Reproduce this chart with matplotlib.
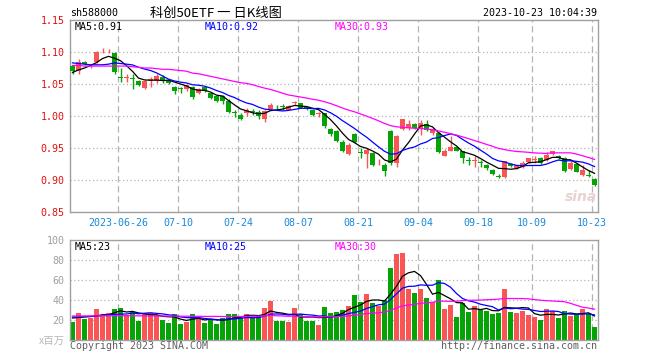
import numpy as np
import pandas as pd
import matplotlib
matplotlib.use("Agg")
import matplotlib.pyplot as plt

# 交易日: 2023-06-12 ~ 2023-10-23 (去掉端午、国庆休市)
holidays = ["2023-06-22", "2023-06-23", "2023-09-29", "2023-10-02",
            "2023-10-03", "2023-10-04", "2023-10-05", "2023-10-06"]
tick_dates = ["2023-06-26", "2023-07-10", "2023-07-24", "2023-08-07", "2023-08-21",
              "2023-09-04", "2023-09-18", "2023-10-09", "2023-10-23"]

open_ = [1.078, 1.070, 1.085, 1.079, 1.084, 1.101, 1.101, 1.098, 1.061, 1.060,
         1.060, 1.054, 1.044, 1.056, 1.055, 1.061, 1.057, 1.046, 1.043, 1.042,
         1.045, 1.036, 1.046, 1.036, 1.031, 1.031, 1.024, 1.006, 1.002, 1.005,
         1.008, 1.006, 0.996, 1.011, 1.016, 1.015, 1.010, 1.020, 1.020, 1.014,
         1.010, 1.003, 1.004, 0.979, 0.976, 0.960, 0.941, 0.972, 0.943, 0.940,
         0.942, 0.929, 0.924, 0.977, 0.927, 0.980, 0.981, 0.988, 0.981, 0.988,
         0.973, 0.973, 0.938, 0.946, 0.951, 0.945, 0.931, 0.930, 0.928, 0.924,
         0.915, 0.906, 0.904, 0.925, 0.919, 0.921, 0.928, 0.931, 0.934, 0.931,
         0.941, 0.938, 0.934, 0.917, 0.925, 0.908, 0.907, 0.902]
high = [1.080, 1.089, 1.086, 1.082, 1.102, 1.106, 1.105, 1.100, 1.075, 1.065,
        1.066, 1.056, 1.056, 1.061, 1.065, 1.064, 1.058, 1.047, 1.046, 1.049,
        1.047, 1.043, 1.047, 1.038, 1.033, 1.033, 1.026, 1.009, 1.004, 1.012,
        1.011, 1.010, 1.009, 1.020, 1.017, 1.019, 1.017, 1.024, 1.021, 1.016,
        1.011, 1.006, 1.005, 0.981, 0.978, 0.963, 0.958, 0.974, 0.950, 0.950,
        0.943, 0.933, 0.926, 0.978, 0.970, 0.996, 0.994, 0.989, 0.993, 0.994,
        0.981, 0.975, 0.948, 0.969, 0.952, 0.946, 0.936, 0.938, 0.932, 0.925,
        0.917, 0.910, 0.930, 0.926, 0.924, 0.929, 0.935, 0.937, 0.936, 0.944,
        0.946, 0.939, 0.936, 0.929, 0.926, 0.924, 0.915, 0.903]
low = [1.066, 1.065, 1.080, 1.075, 1.083, 1.098, 1.098, 1.065, 1.053, 1.053,
       1.042, 1.047, 1.042, 1.045, 1.052, 1.052, 1.050, 1.034, 1.036, 1.039,
       1.027, 1.034, 1.037, 1.026, 1.022, 1.019, 1.005, 0.999, 0.993, 1.000,
       1.002, 0.995, 0.991, 1.009, 1.010, 1.009, 1.009, 1.017, 1.012, 1.009,
       1.000, 0.999, 0.981, 0.969, 0.960, 0.943, 0.939, 0.958, 0.934, 0.919,
       0.922, 0.924, 0.907, 0.924, 0.921, 0.978, 0.978, 0.979, 0.970, 0.977,
       0.971, 0.942, 0.937, 0.945, 0.945, 0.926, 0.924, 0.920, 0.921, 0.916,
       0.908, 0.903, 0.903, 0.921, 0.917, 0.919, 0.926, 0.926, 0.925, 0.929,
       0.939, 0.933, 0.912, 0.915, 0.912, 0.907, 0.904, 0.890]
close = [1.070, 1.085, 1.082, 1.080, 1.100, 1.102, 1.102, 1.068, 1.060, 1.061,
         1.058, 1.049, 1.054, 1.057, 1.063, 1.054, 1.052, 1.039, 1.042, 1.048,
         1.030, 1.042, 1.039, 1.028, 1.024, 1.023, 1.007, 1.005, 0.996, 1.010,
         1.007, 1.000, 1.008, 1.017, 1.015, 1.014, 1.015, 1.021, 1.013, 1.011,
         1.001, 1.004, 0.984, 0.972, 0.961, 0.945, 0.955, 0.959, 0.942, 0.947,
         0.924, 0.930, 0.914, 0.926, 0.969, 0.995, 0.988, 0.981, 0.989, 0.978,
         0.979, 0.943, 0.946, 0.952, 0.946, 0.934, 0.930, 0.931, 0.927, 0.918,
         0.910, 0.905, 0.929, 0.922, 0.923, 0.927, 0.934, 0.932, 0.927, 0.939,
         0.945, 0.934, 0.914, 0.926, 0.913, 0.915, 0.906, 0.892]
# 成交量 (百万)
volume = [18.3, 27, 21.3, 22.3, 31, 25, 27, 31, 32, 25,
          28, 19.3, 27, 27, 25, 20, 17.3, 26, 16.3, 18.3,
          26, 22.3, 17.3, 20.3, 16.3, 22.3, 26, 26, 22.3, 26,
          23.3, 24.3, 32, 39.3, 19.3, 19.3, 18.3, 32, 26, 19.3,
          19.3, 15.3, 33, 27, 28, 30, 34, 45, 38, 46,
          37, 34, 40, 72, 86, 87, 51, 47, 51, 42,
          38, 60, 31, 35, 23, 37, 28, 34, 30, 29,
          26, 27, 51, 28, 27, 29, 25, 23, 20, 31,
          29, 22, 29, 24, 26, 31, 26, 13]

# 窗口未满时的均线读数(来自图中)
ma5_head = [1.068, 1.072, 1.075, 1.079]
ma10_head = [1.083, 1.082, 1.081, 1.080, 1.080, 1.080, 1.081, 1.083, 1.082]
ma30_head = [1.079, 1.079, 1.078, 1.078, 1.078, 1.078, 1.078, 1.078, 1.078, 1.078,
             1.077, 1.076, 1.075, 1.075, 1.074, 1.073, 1.073, 1.072, 1.071, 1.070,
             1.067, 1.066, 1.064, 1.062, 1.060, 1.058, 1.056, 1.054, 1.052]
vma5_head = [22.0, 22.5, 23.0, 23.5]
vma10_head = [23.0, 23.0, 23.5, 23.5, 24.0, 24.5, 25.0, 25.5, 26.0]
vma30_head = [24.0, 24.0, 24.0, 24.1, 24.1, 24.2, 24.2, 24.3, 24.3, 24.3,
              24.2, 24.2, 24.1, 24.1, 24.0, 24.0, 23.9, 23.9, 23.8, 23.8,
              23.7, 23.7, 23.6, 23.6, 23.6, 23.5, 23.5, 23.5, 23.5]

price_legend = ["MA5:0.91", "MA10:0.92", "MA30:0.93"]
vol_legend = ["MA5:23", "MA10:25", "MA30:30"]

RED = "#fa5555"
GREEN = "#06a306"
MA_COLORS = ["#000000", "#0000ff", "#ff00ff"]
GRID = "#b4b4b4"
MONO = "DejaVu Sans Mono"
CJK = ["Noto Sans CJK SC", "DejaVu Sans"]


def moving_avg(values, window, head):
    s = pd.Series(values, dtype=float).rolling(window).mean().to_numpy()
    s[:window - 1] = head
    return s


days = pd.bdate_range("2023-06-12", "2023-10-23")
days = days[~days.isin(pd.to_datetime(holidays))]
tick_idx = [days.get_loc(pd.Timestamp(d)) for d in tick_dates]
tick_labels = [tick_dates[0]] + [d[5:] for d in tick_dates[1:]]

o = np.array(open_)
c = np.array(close)
up = c >= o
colors = np.where(up, RED, GREEN)
x = np.arange(len(c))
bw = 5 / 6
xc = x + 2.5 / 6

W, H = 660, 360
fig = plt.figure(figsize=(W / 100, H / 100), dpi=100)
ax = fig.add_axes([70 / W, 1 - 212 / H, 527.7 / W, 192 / H])
axv = fig.add_axes([70 / W, 1 - 340 / H, 527.7 / W, 100 / H])

for a in (ax, axv):
    a.set_xlim(0, 87.95)
    for s in a.spines.values():
        s.set_color("#a0a0a0")
        s.set_linewidth(1.0)
    for t in tick_idx:
        a.axvline(t, color=GRID, lw=0.9, dashes=(5, 3), zorder=0)
    a.tick_params(length=0, pad=4)

# K线
ax.set_ylim(0.85, 1.15)
yt = [0.85, 0.90, 0.95, 1.00, 1.05, 1.10, 1.15]
ax.set_yticks(yt, [f"{v:.2f}" for v in yt])
for v in yt[1:-1]:
    ax.axhline(v, color=GRID, lw=0.9, dashes=(1, 2), zorder=0)
ax.vlines(xc, low, high, colors=colors, lw=1.0, zorder=2)
body = np.maximum(np.abs(c - o), 0.0012)
ax.bar(x, body, bottom=np.minimum(o, c), width=bw, align="edge",
       color=colors, lw=0, zorder=3)
for w, head, col in zip((5, 10, 30), (ma5_head, ma10_head, ma30_head), MA_COLORS):
    ax.plot(xc, moving_avg(close, w, head), color=col, lw=0.9, zorder=4)
ax.set_xticks(tick_idx, tick_labels)
for lab in ax.get_xticklabels():
    lab.set(color="#1a88d8", fontfamily=MONO, fontsize=7.2)
for lab in ax.get_yticklabels():
    lab.set(color="#e01010", fontfamily=MONO, fontsize=7.2)

# 成交量
axv.set_ylim(0, 100)
axv.set_yticks([20, 40, 60, 80, 100])
for v in [20, 40, 60, 80]:
    axv.axhline(v, color=GRID, lw=0.9, dashes=(1, 2), zorder=0)
axv.bar(x, volume, width=bw, align="edge", color=colors, lw=0, zorder=2)
for w, head, col in zip((5, 10, 30), (vma5_head, vma10_head, vma30_head), MA_COLORS):
    axv.plot(xc, moving_avg(volume, w, head), color=col, lw=0.9, zorder=3)
axv.set_xticks([])
for lab in axv.get_yticklabels():
    lab.set(color="#a0a0a0", fontfamily=MONO, fontsize=7.2)


def ftext(px, py, s, **kw):
    kw.setdefault("fontfamily", MONO)
    kw.setdefault("fontsize", 7.2)
    kw.setdefault("va", "center")
    fig.text(px / W, 1 - py / H, s, **kw)


ftext(70, 13.5, "sh588000")
ftext(216, 13.5, "科创50ETF 一 日K线图", ha="center", fontfamily=CJK, fontsize=9.5)
ftext(597, 13.5, "2023-10-23 10:04:39", ha="right")
for px, s, col in zip((75, 205, 335), price_legend, MA_COLORS):
    ftext(px, 26.5, s, color=col)
for px, s, col in zip((75, 205, 335), vol_legend, MA_COLORS):
    ftext(px, 246.5, s, color=col)
ftext(65, 340.5, "x百万", ha="right", fontfamily=CJK, fontsize=7.5, color="#b8b8b8")
ftext(70, 346, "Copyright 2023 SINA.COM", color="#606060")
ftext(597, 346, "http://finance.sina.com.cn", ha="right", color="#606060")
ftext(597, 197, "sina", ha="right", fontfamily="DejaVu Sans", fontsize=10,
      fontweight="bold", style="italic", color="#e8d2d2")

fig.savefig("out.png", dpi=100, facecolor="white")
